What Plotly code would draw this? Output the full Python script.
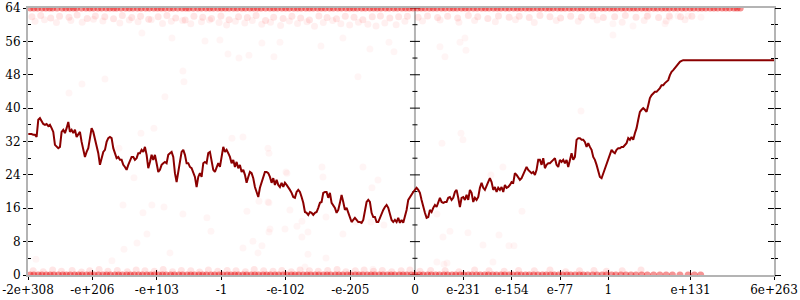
import numpy as np
import plotly.graph_objects as go

# ---------------- data ----------------
X_MIN = -1.7976931348623157e308
X_MAX = 6e263
x_tick_values = [X_MIN, -1e206, -1e103, -1.0, -1e-102, -1e-205, 0.0,
                 1e-231, 1e-154, 1e-77, 1.0, 1e131, X_MAX]
x_tick_labels = ["-2e+308", "-e+206", "-e+103", "-1", "-e-102", "-e-205", "0",
                 "e-231", "e-154", "e-77", "1", "e+131", "6e+263"]
y_major = [0, 8, 16, 24, 32, 40, 48, 56, 64]
y_minor = [4, 12, 20, 28, 36, 44, 52, 60]

# line: positions on the ordered-exponent axis (start, step), then values
line_u_start = -615.8
line_u_step = 2.654
line_y = [
    33.8, 33.8, 33.8, 33.6, 33.6, 33.1,
    37.2, 37.6, 36.7, 36.2, 36.0, 36.2, 35.7, 36.0, 35.2, 34.3,
    31.2, 30.7, 30.4, 30.7, 34.3, 34.8, 34.0, 35.2, 36.7, 34.3,
    34.8, 34.0, 34.8, 33.1, 33.6, 34.3, 31.9, 30.4, 28.3, 29.5,
    30.4, 32.8, 35.2, 34.3, 32.8, 30.7, 29.2, 26.4, 28.0, 29.5,
    30.0, 31.9, 32.8, 33.1, 32.8, 30.4, 29.2, 28.0, 28.3, 27.6,
    27.6, 26.4, 25.9, 25.2, 26.4, 27.6, 28.3, 28.3, 27.6, 28.0,
    29.2, 29.2, 30.0, 29.5, 30.7, 28.8, 25.6, 27.1, 28.8, 27.6,
    28.8, 26.8, 24.7, 25.2, 26.4, 26.8, 27.1, 26.8, 28.8, 29.2,
    29.5, 28.3, 24.4, 22.3, 25.2, 27.1, 29.5, 30.0, 28.8, 26.8,
    26.8, 25.9, 25.6, 24.7, 23.5, 21.1, 23.5, 24.4, 23.5, 26.8,
    27.1, 26.8, 29.2, 29.5, 26.8, 25.2, 24.7, 25.6, 26.8, 25.9,
    28.3, 30.7, 29.5, 30.0, 29.2, 28.3, 26.8, 27.6, 25.9, 27.1,
    25.6, 26.4, 24.7, 25.2, 24.0, 22.1, 23.5, 24.7, 24.4, 23.2,
    21.1, 19.9, 18.7, 20.9, 22.3, 23.2, 24.7, 24.7, 24.4, 23.5,
    22.1, 23.2, 21.6, 22.8, 21.6, 21.1, 22.1, 21.1, 22.1, 21.6,
    21.1, 20.4, 19.7, 18.7, 18.5, 19.9, 20.4, 19.9, 18.7, 17.3,
    15.1, 14.9, 14.4, 15.1, 14.9, 14.4, 14.9, 15.1, 16.1, 17.3,
    17.5, 19.7, 19.9, 19.9, 18.5, 19.7, 17.3, 16.8, 16.1, 14.9,
    15.6, 17.3, 19.2, 17.5, 15.6, 16.1, 14.9, 13.7, 12.7, 13.2,
    13.7, 13.2, 12.7, 12.7, 12.5, 13.2, 15.6, 17.5, 18.0, 17.5,
    14.9, 13.9, 13.9, 12.7, 12.7, 13.7, 14.9, 15.6, 16.3, 16.8,
    16.1, 14.9, 13.2, 12.7, 13.2, 12.7, 13.7, 12.5, 13.2, 12.5,
    13.9, 15.6, 18.0, 18.7, 19.2, 19.9, 20.4, 20.9, 20.4, 19.7,
    18.0, 16.1, 14.9, 13.7, 13.9, 15.6, 15.1, 16.1, 16.8, 16.3,
    17.3, 18.5, 17.5, 17.3, 17.5, 17.5, 18.5, 18.7, 18.0, 18.5,
    19.9, 20.4, 18.5, 16.3, 18.5, 18.7, 18.0, 19.2, 18.0, 20.4,
    19.7, 17.5, 18.5, 18.0, 18.7, 20.9, 22.1, 20.9, 20.4, 21.6,
    22.3, 23.2, 22.3, 20.4, 21.1, 19.9, 20.9, 20.4, 21.1, 19.9,
    21.6, 20.9, 21.1, 21.6, 22.3, 22.1, 24.4, 24.0, 23.5, 22.8,
    23.2, 24.0, 24.7, 25.9, 25.2, 24.7, 24.4, 24.7, 24.0, 25.2,
    27.6, 27.6, 26.4, 28.0, 25.6, 26.4, 26.8, 26.8, 27.1, 27.6,
    28.0, 26.4, 25.9, 27.6, 27.1, 27.6, 26.8, 27.6, 25.9, 27.6,
    29.2, 27.6, 28.3, 32.4, 32.8, 32.8, 32.4, 32.4, 31.9, 30.7,
    31.6, 30.7, 30.0, 28.3, 27.6, 26.4, 25.2, 23.5, 23.2, 24.4,
    25.2, 26.4, 27.6, 29.2, 30.0, 29.5, 29.2, 30.0, 30.4, 30.4,
    30.7, 30.7, 31.2, 31.6, 32.8, 32.4, 33.1, 32.4, 34.0, 35.2,
    37.2, 39.1, 39.6, 40.0, 39.6, 39.1, 40.7, 42.4, 43.1, 43.6,
    43.9, 43.9, 44.3, 44.8, 45.5, 45.5, 46.0, 46.3, 46.7, 47.9,
    48.7, 49.1, 49.6, 50.3, 50.8, 51.1, 51.3, 51.5,
]

# faint scattered points (axis positions, values)
top_edge_x = [-613, -601, -588, -577, -562, -550, -539, -524, -512, -499, -486, -475,
              -461, -449, -436, -423, -410, -398, -385, -371, -360, -346, -333, -321,
              -308, -296, -283, -270, -257, -245, -231, -219, -206, -193, -181, -168,
              -155, -143, -130, -117, -104, -92, -79, -66, -54, -41, -28, -15, -3, 10,
              23, 35, 48, 61, 74, 86, 99, 112, 125, 137, 150, 163, 176, 188, 201, 214,
              227, 239, 252, 265, 278, 290, 303, 316, 329, 342, 354, 367, 380, 393,
              405, 418, 431, 444, 457, 470, 482, 495, 508, 518,
              -607, -594, -582, -570, -556, -544, -531, -518, -505, -492, -480, -468,
              -455, -442, -429, -416, -404, -391, -378, -365, -353, -340, -327, -314,
              -302, -289, -276, -263, -251, -238, -225, -212, -200, -187, -174, -162,
              -149, -136, -123, -110, -98, -85, -72, -60, -47, -34, -21, -9, 4, 16,
              29, 42, 55, 67, 80, 93, 106, 118, 131, 144, 157, 169, 182, 195, 208,
              220, 233, 246, 259, 271, 284, 297, 310, 322, 335, 348, 361, 373, 386,
              399, 412, 425, 438, 451, 463, 476, 489, 501, 513]
band_top_x = [-610, -596, -580, -566, -551, -538, -522, -509, -494, -480,
              -466, -451, -437, -424, -409, -395, -381, -366, -352, -338,
              -324, -309, -296, -281, -267, -253, -238, -225, -210, -196,
              -182, -168, -153, -140, -125, -111, -97, -83, -68, -55,
              -40, -26, -12, 5, 20, 36, 52, 68, 85, 100,
              116, 133, 150, 166, 182, 199, 215, 232, 248, 265,
              283, 300, 318, 335, 352, 370, 388, 405, 423, 441]
band_top_y = [61.9, 62.2, 61.6, 62.0, 61.8, 62.3, 61.5, 62.1, 61.9, 61.4,
              62.2, 61.7, 62.0, 61.3, 61.9, 62.2, 61.6, 61.1, 62.0, 61.8,
              61.5, 62.1, 61.2, 61.9, 61.7, 62.2, 61.0, 61.8, 61.5, 62.0,
              61.6, 61.1, 62.1, 61.7, 61.4, 62.0, 61.8, 61.2, 61.9, 62.1,
              61.6, 61.9, 62.0, 61.8, 62.1, 61.7, 62.0, 61.6, 62.2, 61.9,
              61.5, 62.1, 61.8, 62.0, 61.7, 62.2, 61.9, 61.6, 62.0, 61.8,
              62.1, 61.7, 61.9, 62.2, 61.8, 62.0, 61.7, 62.1, 61.9, 62.0]
haze_top_x = [-605, -590, -571, -548, -530, -512, -497, -470, -455, -441,
              -420, -402, -388, -370, -357, -340, -327, -312, -300, -286,
              -271, -259, -244, -230, -214, -200, -187, -172, -160, -146,
              -131, -118, -104, -90, -75, -62, -48, -30, -16, 12,
              40, 70, 95, 128, 160, 190, 225, 260, 290, 330,
              365, 400, 430]
haze_top_y = [60.8, 61.2, 60.5, 61.0, 60.6, 61.3, 60.9, 60.4, 61.1, 60.7,
              61.2, 60.3, 60.8, 61.0, 60.2, 60.7, 61.1, 60.5, 59.9, 60.8,
              60.4, 61.0, 60.1, 60.6, 59.8, 60.9, 60.3, 60.7, 59.6, 60.5,
              61.0, 60.2, 59.9, 60.6, 60.1, 59.7, 60.4, 60.0, 60.8, 60.9,
              61.1, 60.6, 61.0, 60.7, 61.2, 60.5, 61.0, 60.8, 61.1, 60.6,
              61.0, 60.9, 61.2]
bottom_edge_x = [-613, -600, -587, -575, -561, -549, -536, -523, -511, -497, -485, -472,
                 -459, -447, -434, -421, -408, -396, -383, -370, -357, -344, -332, -319,
                 -306, -293, -281, -268, -255, -242, -230, -217, -204, -191, -178, -166,
                 -153, -140, -127, -115, -102, -89, -76, -64, -51, -38, -25, -13, 0, 13,
                 26, 39, 52, 65, 78, 91, 104, 117, 130, 143, 156, 169, 182, 196, 209,
                 222, 235, 248, 262, 275, 290, 305, 320, 336, 352, 370, 390, 410, 435, 455,
                 -607, -594, -581, -568, -555, -542, -530, -517, -504, -491, -478, -466,
                 -453, -440, -427, -415, -402, -389, -376, -363, -351, -338, -325, -312,
                 -299, -287, -274, -261, -249, -236, -223, -210, -197, -185, -172, -159,
                 -146, -134, -121, -108, -95, -83, -70, -57, -44, -32, -19, -6, 7, 20,
                 33, 46, 59, 72, 85, 98, 111, 124, 137, 150, 163, 176, 189, 203, 216,
                 229, 242, 255, 268, 283, 298, 313, 328, 344, 361, 380, 400, 422, 445]
band_bottom_x = [-608, -592, -577, -563, -546, -531, -518, -503, -489, -474,
                 -458, -444, -430, -415, -401, -386, -372, -357, -343, -329,
                 -314, -299, -285, -270, -256, -241, -226, -212, -197, -183,
                 -168, -154, -139, -124, -110, -95, -81, -66, -52, -37,
                 -22, -8, 8, 25, 48, 70, 95, 118, 142, 165,
                 190, 215, 240, 262, 285, 305, 330, 360]
band_bottom_y = [1.0, 0.8, 1.2, 0.9, 1.1, 0.7, 1.0, 1.3, 0.9, 1.1,
                 0.8, 1.2, 1.0, 0.9, 1.3, 0.8, 1.1, 1.0, 0.7, 1.2,
                 0.9, 1.1, 1.0, 0.8, 1.3, 1.0, 0.9, 1.1, 0.8, 1.2,
                 1.0, 0.9, 1.1, 1.3, 0.8, 1.0, 1.2, 0.9, 1.1, 0.8,
                 1.0, 1.2, 0.9, 1.1, 1.0, 0.8, 1.2, 1.0, 0.9, 1.1,
                 1.0, 1.2, 0.8, 1.0, 1.1, 0.9, 1.0, 1.2]
sparse_x = [-603.6, -465.0, -418.9, -399.7, -369.5, -433.2, -426.8, -442.7, -390.2, -463.4,
            -482.6, -331.3, -324.9, -267.6, -230.9, -232.5, -258.0, -273.9, -250.0, -243.7,
            -207.0, -187.9, -170.4, -180.0, -114.7, -141.7, -170.4, -175.2, -66.9, 35.0,
            51.0, -234.1, 44.6, 55.7, 84.4, 133.8, 108.3, 149.7, 157.7, 124.2,
            46.2, 170.4, 73.3, 76.4, 43.0, 140.1, 121.0, 35.0, 264.4, -436.4,
            -415.7, -471.4, -447.5, -291.4, -273.9, -234.1, -232.5, -205.4, -232.5, -248.4,
            -148.1, -82.8, -146.5, -203.9, -68.5, -58.9, -199.1, -180.0, -141.7, -94.0,
            -70.1, -49.4, -551.0, -530.3, -493.7, -369.5, -367.9, -398.2, -297.8, -280.3,
            -264.4, -224.6, -149.7, -71.7, -33.4, -90.8, -334.4, -310.6, -243.7, -215.0,
            -434.8, -387.0, -114.7, -41.4, 315.3, 347.2, 315.3, 398.2, 455.5, 434.8,
            371.1, 406.1, 418.9, 47.8, 39.8, 71.7, 81.2, 79.6]
sparse_y = [3.8, 16.8, 16.8, 16.3, 14.6, 14.9, 9.8, 7.7, 5.3, 6.2,
            3.4, 13.7, 10.5, 15.3, 11.0, 10.3, 8.1, 6.5, 5.3, 7.0,
            11.0, 11.7, 10.3, 9.1, 9.8, 4.1, 5.0, 1.9, 1.4, 3.1,
            2.9, 17.5, 9.1, 10.5, 10.1, 9.6, 7.2, 7.0, 7.0, 3.1,
            2.6, 15.3, 34.0, 32.4, 31.6, 25.9, 24.0, 14.6, 39.3, 34.0,
            35.2, 30.4, 23.3, 32.8, 33.1, 30.4, 29.2, 24.7, 17.3, 17.7,
            25.9, 25.9, 23.5, 24.4, 20.9, 22.8, 15.6, 12.9, 13.9, 12.7,
            12.7, 12.0, 43.6, 45.8, 47.0, 48.9, 46.3, 42.7, 53.0, 52.0,
            52.7, 52.3, 54.9, 54.2, 53.5, 47.5, 56.1, 56.3, 55.6, 55.8,
            58.0, 56.8, 56.8, 55.8, 57.5, 59.7, 60.2, 60.2, 61.8, 62.1,
            62.3, 61.8, 62.1, 52.3, 54.7, 55.8, 53.9, 56.8]


def pos(v):
    """Position of a float on the ordered-exponent axis."""
    if v == 0:
        return 0.0
    return float(np.sign(v) * (np.log10(abs(v)) + 308.0))


x_lo, x_hi = pos(X_MIN), pos(X_MAX)
line_x = [line_u_start + i * line_u_step for i in range(len(line_y))] + [x_hi]
line_yy = line_y + [line_y[-1]]

GRAY = "#b4b4b4"
FONT = dict(family="'DejaVu Serif', 'Liberation Serif', serif", size=12, color="black")

fig = go.Figure()


def dots(xs, ys, color, size=7):
    fig.add_trace(go.Scatter(
        x=xs, y=ys, mode="markers", hoverinfo="skip",
        marker=dict(size=size, color=color, line=dict(width=0)),
        cliponaxis=True))


dots(sparse_x, sparse_y, "rgba(255,0,0,0.04)")
dots(haze_top_x, haze_top_y, "rgba(255,0,0,0.06)")
dots(band_top_x, band_top_y, "rgba(255,0,0,0.10)")
dots(band_bottom_x, band_bottom_y, "rgba(255,0,0,0.10)")
dots(top_edge_x, [64.0] * len(top_edge_x), "rgba(230,0,0,0.42)", 7)
dots(bottom_edge_x, [0.0] * len(bottom_edge_x), "rgba(230,0,0,0.42)", 7)

fig.add_trace(go.Scatter(x=line_x, y=line_yy, mode="lines", hoverinfo="skip",
                         line=dict(color="#8b0000", width=2)))

# invisible helpers so the overlaying tick axes are drawn
for xa, ya in (("x2", "y"), ("x", "y2"), ("x", "y3"), ("x", "y4")):
    fig.add_trace(go.Scatter(x=[None], y=[None], xaxis=xa, yaxis=ya,
                             mode="markers", showlegend=False, hoverinfo="skip"))

xt = [pos(v) for v in x_tick_values]
common_x = dict(range=[x_lo, x_hi], tickvals=xt, showgrid=False, zeroline=False,
                tickcolor="black", tickwidth=1, automargin=False)
common_y = dict(range=[0, 64], tickvals=y_major, showgrid=False, zeroline=False,
                tickcolor="black", tickwidth=1, automargin=False)

fig.update_layout(
    width=800, height=300,
    margin=dict(l=28, r=26, t=8, b=25, pad=0),
    plot_bgcolor="white", paper_bgcolor="white",
    showlegend=False, font=FONT,
    xaxis=dict(**common_x, ticktext=x_tick_labels, ticks="outside", ticklen=3,
               showline=True, linecolor=GRAY, linewidth=2, mirror=True,
               layer="below traces", tickfont=FONT),
    xaxis2=dict(**common_x, overlaying="x", anchor="y", side="bottom",
                ticks="inside", ticklen=5, showticklabels=False, showline=False,
                layer="below traces"),
    yaxis=dict(**common_y, ticks="outside", ticklen=3, showline=True,
               linecolor=GRAY, linewidth=2, mirror=True, layer="below traces",
               tickfont=FONT,
               minor=dict(tickvals=y_minor, ticks="inside", ticklen=3,
                          tickcolor="black", tickwidth=1)),
    yaxis2=dict(**common_y, overlaying="y", anchor="x", side="left",
                ticks="inside", ticklen=5, showticklabels=False, showline=False,
                layer="below traces"),
    yaxis3=dict(**common_y, overlaying="y", anchor="x", side="right",
                ticks="outside", ticklen=6, showticklabels=False, showline=False,
                layer="below traces",
                minor=dict(tickvals=y_minor, ticks="outside", ticklen=3,
                           tickcolor="black", tickwidth=1)),
    yaxis4=dict(**common_y, overlaying="y", anchor="x", side="right",
                ticks="inside", ticklen=6, showticklabels=False, showline=False,
                layer="below traces",
                minor=dict(tickvals=y_minor, ticks="inside", ticklen=3,
                           tickcolor="black", tickwidth=1)),
)

# central axis at x = 0 with crossing ticks
shapes = [dict(type="line", xref="x", yref="y", x0=0, x1=0, y0=0, y1=64,
               line=dict(color=GRAY, width=2), layer="below")]
for v in y_major:
    shapes.append(dict(type="line", xref="x", yref="y", xsizemode="pixel", xanchor=0,
                       x0=-5, x1=5, y0=v, y1=v, line=dict(color="black", width=1),
                       layer="below"))
for v in y_minor:
    shapes.append(dict(type="line", xref="x", yref="y", xsizemode="pixel", xanchor=0,
                       x0=-2.5, x1=2.5, y0=v, y1=v, line=dict(color="black", width=1),
                       layer="below"))
fig.update_layout(shapes=shapes)

fig.write_html("out.html")
